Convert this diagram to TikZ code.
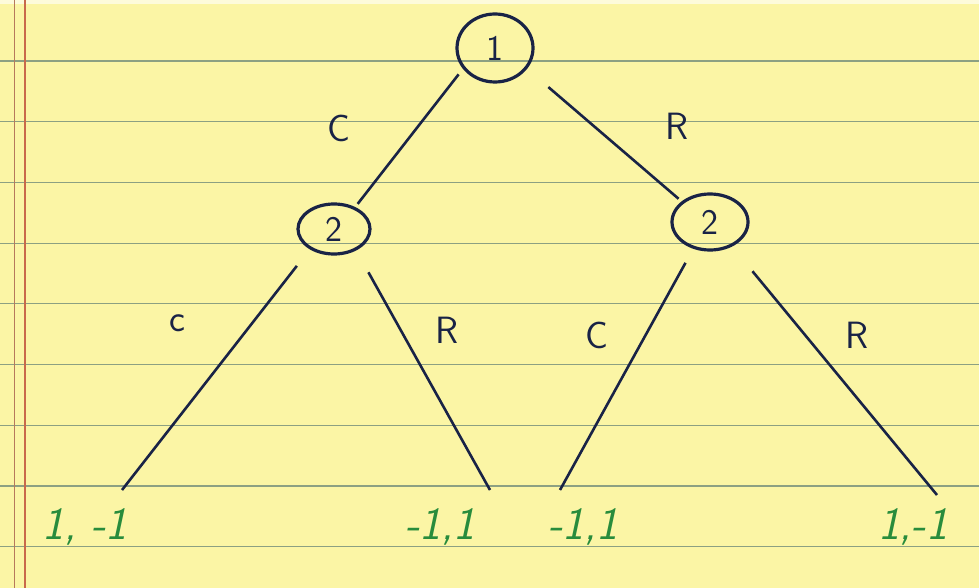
\documentclass[tikz,border=0pt]{standalone}
\usepackage{fontspec}
\usepackage{tikz}
\usetikzlibrary{shapes.geometric}
\definecolor{paper}{RGB}{251,245,165}
\definecolor{ruling}{RGB}{140,160,130}
\definecolor{margin}{RGB}{200,105,75}
\definecolor{ink}{RGB}{25,35,70}
\definecolor{pay}{RGB}{40,140,60}

\begin{document}
\begin{tikzpicture}[x=1pt,y=-1pt,
  player/.style={draw=ink, line width=3.2pt, ellipse, inner sep=0pt, text=ink,
    font=\sffamily\fontsize{36}{36}\selectfont},
  move/.style={draw=ink, line width=2.6pt},
  act/.style={text=ink, font=\sffamily\fontsize{38}{38}\selectfont},
  payoff/.style={text=pay, font=\sffamily\itshape\fontsize{46}{46}\selectfont}]
  \useasboundingbox (0,0) rectangle (979,588);
  \fill[paper] (0,0) rectangle (979,588);
  \fill[white!60!paper] (0,0) rectangle (979,4);
  \foreach \i in {0,...,8}
    \draw[ruling, line width=1.2pt] (0,{61+60.7*\i}) -- (979,{61+60.7*\i});
  \draw[margin!70!ruling, line width=1pt] (14,0) -- (14,588);
  \draw[margin, line width=1.3pt] (25,0) -- (25,588);

  \node[player, minimum width=76, minimum height=68] (n1) at (495,48) {1};
  \node[player, minimum width=72, minimum height=50] (n2l) at (334,229) {2};
  \node[player, minimum width=76, minimum height=56] (n2r) at (710,222) {2};

  \coordinate (tLL) at (122,490);
  \coordinate (tLR) at (490,490);
  \coordinate (tRL) at (560,490);
  \coordinate (tRR) at (937,495);

  \draw[move, shorten <=7pt, shorten >=4pt] (n1.213) -- (n2l.46);
  \draw[move, shorten <=28pt, shorten >=4pt] (n1.327) -- (n2r.144);
  \draw[move, shorten <=21pt] (n2l.220) -- (tLL);
  \draw[move, shorten <=25pt] (n2l.316) -- (tLR);
  \draw[move, shorten <=16pt] (n2r.238) -- (tRL);
  \draw[move, shorten <=32pt] (n2r.312) -- (tRR);

  \node[act] (aC) at (339,128) {C};
  \node[act] (aR) at (677,126) {R};
  \node[act] (aLc) at (177,323) {c};
  \node[act] (aLR) at (447,330) {R};
  \node[act] (aRC) at (597,335) {C};
  \node[act] (aRR) at (857,335) {R};

  \node[payoff] (pLL) at (85,527) {1, -1};
  \node[payoff] (pLR) at (440,527) {-1,1};
  \node[payoff] (pRL) at (583,527) {-1,1};
  \node[payoff] (pRR) at (913,527) {1,-1};
\end{tikzpicture}
\end{document}
